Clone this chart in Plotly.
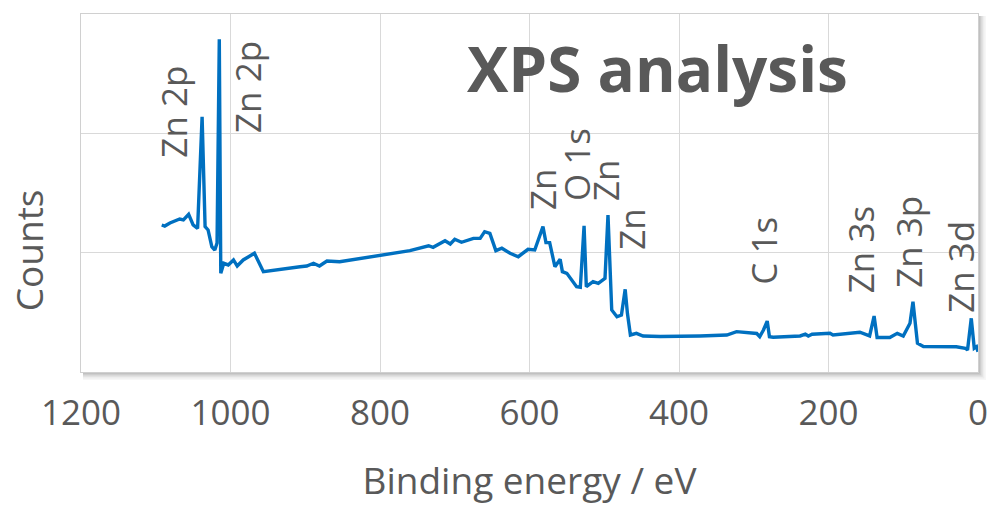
import plotly.graph_objects as go

# ---- data (binding energy in eV, counts) ----
energy_eV = [1092, 1088, 1081, 1074, 1068, 1063, 1056, 1050, 1044, 1038, 1034, 1030, 1025, 1021,
             1018, 1015, 1013, 1009, 1003, 996, 991, 983, 968, 956, 947, 929, 907, 898, 889, 881,
             871, 854, 800, 760, 735, 729, 713, 706, 700, 691, 675, 666, 660, 653, 645, 637, 626,
             615, 602, 593, 582, 578, 573, 566, 559, 556, 550, 537, 532, 527, 524, 515, 508, 499,
             495, 490, 483, 477, 472, 469, 465, 457, 448, 425, 372, 336, 323, 296, 292, 287, 282,
             279, 274, 238, 231, 227, 222, 198, 194, 158, 145, 139, 135, 118, 108, 100, 91, 87,
             81, 73, 29, 17, 14, 9, 5, 2, 0]
counts = [12320, 12230, 12490, 12650, 12820, 12740, 13220, 12320, 12040, 21390, 12180, 11900, 10500, 10220,
          10810, 27880, 8270, 9110, 8970, 9390, 8880, 9390, 9950, 8410, 8490, 8690, 8820, 8880, 9110, 8880,
          9300, 9240, 9800, 10170, 10580, 10450, 11000, 10730, 11120, 10870, 11200, 11200, 11760, 11620, 10170, 10370, 9950,
          9660, 10280, 10220, 12180, 10840, 10840, 8820, 9440, 8410, 8270, 7150, 7100, 12250, 7150, 7570, 7430, 7850,
          13160, 5200, 4630, 4780, 6930, 4920, 3100, 3240, 3020, 2970, 3020, 3100, 3380, 3230, 2970, 3520, 4270,
          2960, 2910, 3020, 3180, 3020, 3160, 3240, 3100, 3330, 3020, 4690, 2890, 2890, 3240, 3020, 4080, 5890,
          2410, 2140, 2120, 1990, 1840, 4500, 1990, 2120, 1700]

peak_labels = ["Zn 2p", "Zn 2p", "Zn", "O 1s", "Zn", "Zn", "C 1s", "Zn 3s", "Zn 3p", "Zn 3d"]
peak_label_eV = [1076, 978, 582, 537, 499, 463, 288, 157, 94, 23]

x_ticks = [0, 200, 400, 600, 800, 1000, 1200]

# ---- positions / styles ----
label_base = [17770, 19860, 13410, 14160, 14160, 10060, 7120, 6450, 6870, 4780]
GRAY = "#595959"
FONT = "Open Sans"

fig = go.Figure()
fig.add_trace(go.Scatter(x=energy_eV, y=counts, mode="lines",
                         line=dict(color="#0070c0", width=3.4), showlegend=False))

annotations = []
for txt, ev, yb in zip(peak_labels, peak_label_eV, label_base):
    annotations.append(dict(x=ev, y=yb, xref="x", yref="y", text=txt, textangle=-90,
                            showarrow=False, xanchor="center", yanchor="bottom",
                            font=dict(family=FONT, size=35, color=GRAY)))
annotations.append(dict(x=0.643, y=0.85, xref="paper", yref="paper", text="<b>XPS analysis</b>",
                        showarrow=False, xanchor="center", yanchor="middle",
                        font=dict(family=FONT, size=62, color=GRAY)))
# y-axis title (placed below the axis centre, as in the original)
annotations.append(dict(x=-53 / 897, y=0.34, xref="paper", yref="paper", text="Counts",
                        textangle=-90, showarrow=False, xanchor="center", yanchor="middle",
                        font=dict(family=FONT, size=37, color=GRAY)))

# soft drop shadow around plot area, then white plot face on top of it
shapes = []
for i, op in enumerate([0.10, 0.08, 0.06, 0.04, 0.03]):
    d = (i + 1) * 1.6
    shapes.append(dict(type="rect", xref="paper", yref="paper", layer="below",
                       x0=0.0 + 2 / 897, x1=1.0 + d / 897, y0=0.0 - d / 358, y1=1.0 - 2 / 358,
                       line=dict(width=0), fillcolor=f"rgba(0,0,0,{op})"))
shapes.append(dict(type="rect", xref="paper", yref="paper", layer="below",
                   x0=0, x1=1, y0=0, y1=1, line=dict(width=0), fillcolor="white"))

fig.update_layout(
    width=990, height=505,
    margin=dict(l=81, r=12, t=14, b=133, autoexpand=False),
    paper_bgcolor="white", plot_bgcolor="rgba(0,0,0,0)",
    font=dict(family=FONT, color=GRAY),
    annotations=annotations,
    shapes=shapes,
    xaxis=dict(range=[1200, 0], tickvals=x_ticks, ticktext=[str(v) for v in x_ticks],
               showgrid=True, gridcolor="#d9d9d9", gridwidth=1, zeroline=False,
               showline=True, linecolor="#d0d0d0", mirror=True, ticks="",
               ticklabelstandoff=10, automargin=False,
               tickfont=dict(family=FONT, size=35, color=GRAY),
               title=dict(text="Binding energy / eV", standoff=39,
                          font=dict(family=FONT, size=37, color=GRAY))),
    yaxis=dict(range=[0, 30000], tickvals=[0, 10000, 20000, 30000], showticklabels=False,
               showgrid=True, gridcolor="#d9d9d9", gridwidth=1, zeroline=False,
               showline=True, linecolor="#d0d0d0", mirror=True, ticks="", automargin=False),
)

fig.write_html("out.html", config={"displayModeBar": False},
               post_script="document.body.style.margin='0';document.body.style.overflow='hidden';")
